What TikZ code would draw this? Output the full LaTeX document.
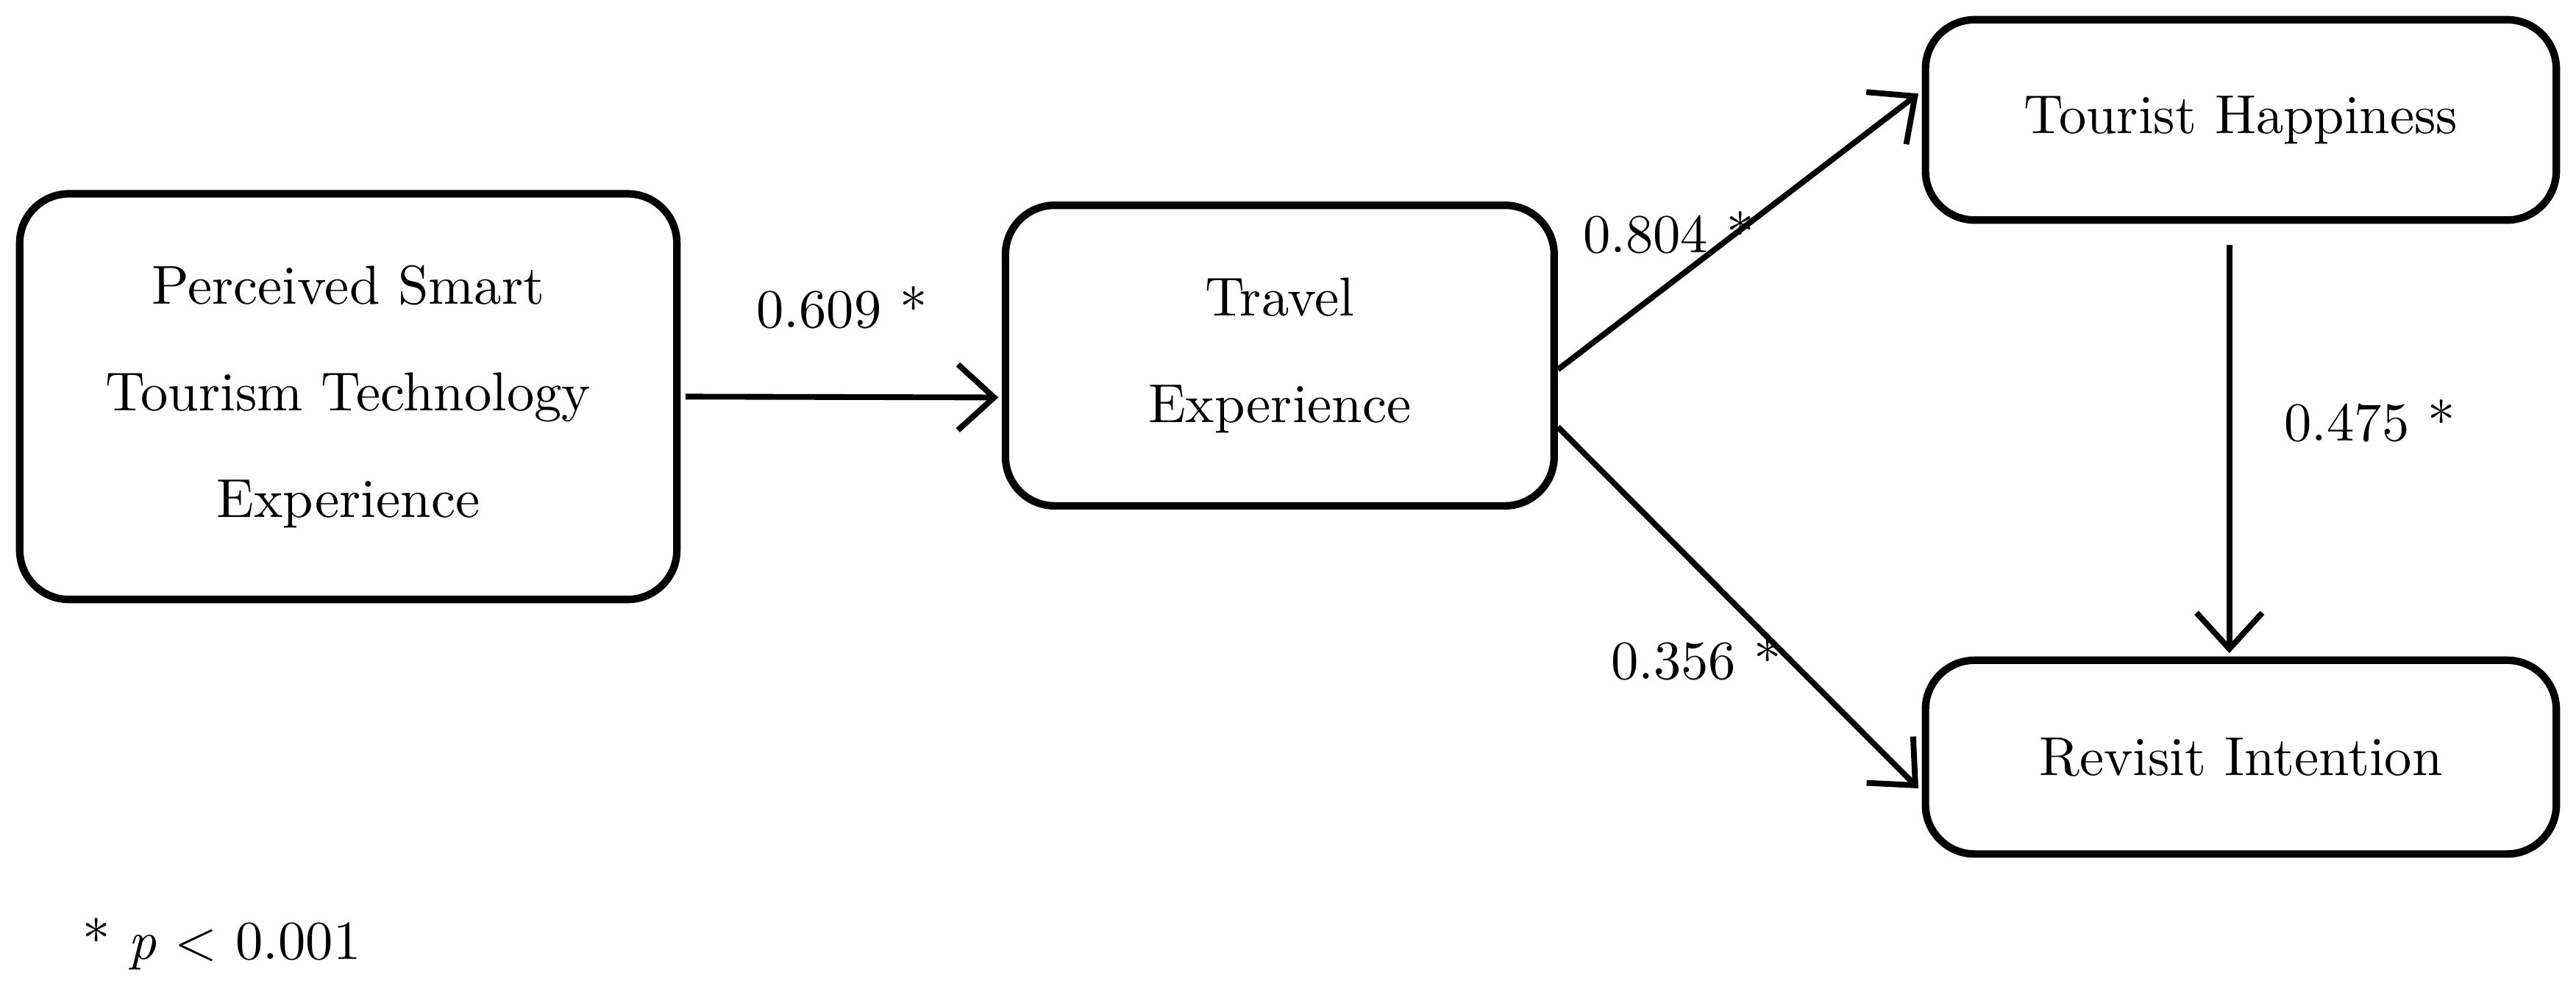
\documentclass[tikz,border=0pt]{standalone}
\usepackage{tikz}
\usetikzlibrary{positioning,calc,arrows.meta}

\tikzset{
    construct/.style={draw=black, line width=1.3pt, rounded corners=0.3cm, align=center, inner sep=0pt, font=\fontsize{9.5}{18.5}\selectfont},
    path/.style={line width=1pt, -{Straight Barb[length=0.22cm,width=0.4cm,line width=1pt]}},
    coef/.style={font=\fontsize{9.5}{12}\selectfont}
}

\begin{document}
\begin{tikzpicture}
    \useasboundingbox (0,0) rectangle (15.68,-6.04);

    \node[construct, minimum width=4.0cm, minimum height=2.47cm] (smart) at (2.12,-2.415) {Perceived Smart\\ Tourism Technology\\ Experience};
    \node[construct, minimum width=3.34cm, minimum height=1.83cm] (travel) at (7.79,-2.165) {Travel\\ Experience};
    \node[construct, minimum width=3.84cm, minimum height=1.22cm] (happy) at (13.64,-0.73) {Tourist Happiness};
    \node[construct, minimum width=3.84cm, minimum height=1.18cm] (revisit) at (13.64,-4.61) {Revisit Intention};

    \draw[path] ([xshift=0.03cm]smart.east) -- node[coef, above=0.28cm]{0.609 *} ([xshift=-0.02cm,yshift=-0.255cm]travel.west);
    \draw[path] ([yshift=-0.085cm]travel.east) -- node[coef, pos=0.4, above left=-0.1cm and -0.45cm]{0.804 *} ([xshift=-0.02cm,yshift=0.16cm]happy.west);
    \draw[path] ([yshift=-0.435cm]travel.east) -- node[coef, pos=0.5, below left=0.05cm and -0.4cm]{0.356 *} ([xshift=-0.02cm,yshift=-0.19cm]revisit.west);
    \draw[path] ([xshift=-0.07cm,yshift=-0.13cm]happy.south) -- node[coef, pos=0.43, right=0.2cm]{0.475 *} ([xshift=-0.07cm,yshift=0.02cm]revisit.north);

    \node[coef, anchor=west] (note) at (0.38,-5.75) {* \textit{p} < 0.001};
\end{tikzpicture}
\end{document}
